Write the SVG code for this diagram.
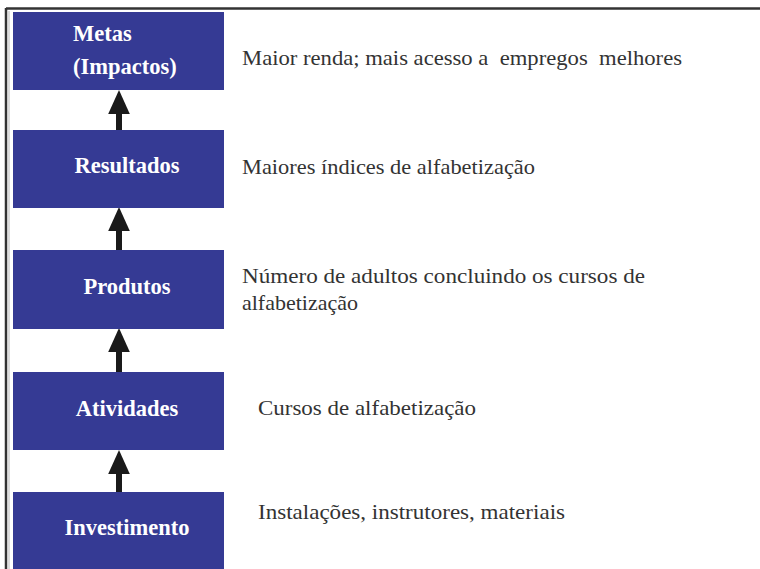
<svg xmlns="http://www.w3.org/2000/svg" width="760" height="569" viewBox="0 0 760 569">
<style>
.box{fill:#353a94}
.lbl{font-family:"Liberation Serif",serif;font-weight:bold;font-size:22.5px;fill:#ffffff}
.desc{font-family:"Liberation Serif",serif;font-size:21.5px;fill:#333333;white-space:pre}
.frame{fill:none;stroke:#333333;stroke-width:2.5}
</style>
<defs>
<marker id="ah" markerWidth="4" markerHeight="3.6" refX="0" refY="1.8" orient="auto" markerUnits="strokeWidth">
<path d="M0,0 L4,1.8 L0,3.6 Z" fill="#1a1a1a"/>
</marker>
</defs>
<rect width="760" height="569" fill="#ffffff"/>
<g id="frame">
<line class="frame" x1="6" y1="8.5" x2="760" y2="8.5"/>
<line class="frame" x1="6" y1="8" x2="6" y2="569"/>
<line x1="9" y1="11" x2="9" y2="569" stroke="#bbbbbb" stroke-width="1"/>
</g>
<g id="connectors">
<line x1="119" y1="130" x2="119" y2="114" stroke="#1a1a1a" stroke-width="6" marker-end="url(#ah)"/>
<line x1="119" y1="250" x2="119" y2="231" stroke="#1a1a1a" stroke-width="6" marker-end="url(#ah)"/>
<line x1="119" y1="372" x2="119" y2="352" stroke="#1a1a1a" stroke-width="6" marker-end="url(#ah)"/>
<line x1="119" y1="492" x2="119" y2="474" stroke="#1a1a1a" stroke-width="6" marker-end="url(#ah)"/>
</g>
<g id="metas">
<rect class="box" x="13" y="12" width="211" height="78"/>
<text class="lbl" x="73" y="41">Metas</text>
<text class="lbl" x="73" y="74">(Impactos)</text>
<text class="desc" x="242" y="65" textLength="440" lengthAdjust="spacingAndGlyphs">Maior renda; mais acesso a  empregos  melhores</text>
</g>
<g id="resultados">
<rect class="box" x="13" y="130" width="211" height="78"/>
<text class="lbl" x="127" y="173" text-anchor="middle">Resultados</text>
<text class="desc" x="242" y="174" textLength="293" lengthAdjust="spacingAndGlyphs">Maiores índices de alfabetização</text>
</g>
<g id="produtos">
<rect class="box" x="13" y="250" width="211" height="79"/>
<text class="lbl" x="127" y="294" text-anchor="middle">Produtos</text>
<text class="desc" x="242" y="283" textLength="403" lengthAdjust="spacingAndGlyphs">Número de adultos concluindo os cursos de</text>
<text class="desc" x="242" y="310" textLength="116" lengthAdjust="spacingAndGlyphs">alfabetização</text>
</g>
<g id="atividades">
<rect class="box" x="13" y="372" width="211" height="78"/>
<text class="lbl" x="127" y="416" text-anchor="middle">Atividades</text>
<text class="desc" x="258" y="415" textLength="218" lengthAdjust="spacingAndGlyphs">Cursos de alfabetização</text>
</g>
<g id="investimento">
<rect class="box" x="13" y="492" width="211" height="80"/>
<text class="lbl" x="127" y="535" text-anchor="middle">Investimento</text>
<text class="desc" x="258" y="519" textLength="307" lengthAdjust="spacingAndGlyphs">Instalações, instrutores, materiais</text>
</g>
</svg>
